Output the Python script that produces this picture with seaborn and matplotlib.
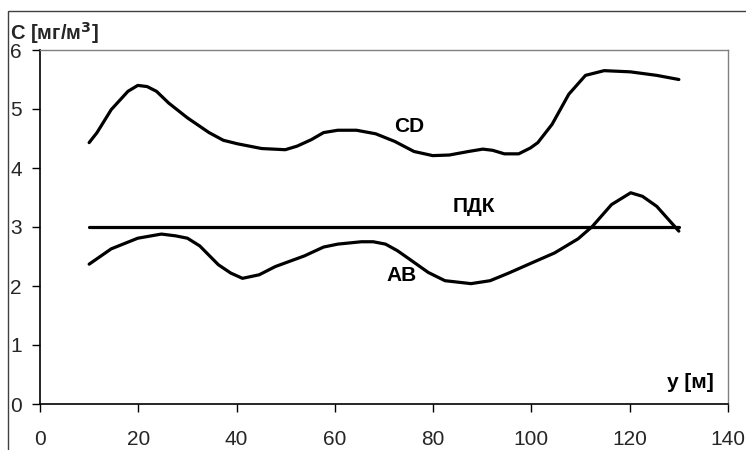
import matplotlib
matplotlib.use("Agg")
import matplotlib.pyplot as plt
import seaborn as sns
import pandas as pd
from matplotlib.patches import Rectangle

# концентрация вдоль профиля CD
x_cd = [10, 11.6, 14.5, 17.9, 19.9, 21.8, 23.7, 26.2, 30, 34.4, 37.3, 40.2, 45.1, 49.9,
        52.3, 55.2, 57.7, 60.6, 64.4, 68.3, 72.2, 76.1, 79.9, 83.3, 87.2, 90.1, 92.1,
        94.5, 97.4, 99.8, 101.3, 104.2, 107.6, 111, 114.8, 120.1, 125.5, 130]
c_cd = [4.43, 4.6, 4.99, 5.30, 5.40, 5.38, 5.30, 5.10, 4.85, 4.60, 4.47, 4.41, 4.33, 4.31,
        4.37, 4.48, 4.60, 4.64, 4.64, 4.58, 4.45, 4.28, 4.21, 4.22, 4.28, 4.32, 4.30,
        4.24, 4.24, 4.34, 4.43, 4.74, 5.25, 5.57, 5.65, 5.63, 5.57, 5.50]

# концентрация вдоль профиля AB
x_ab = [10, 14.5, 19.9, 24.7, 27.6, 30, 32.5, 36.3, 38.8, 41.2, 44.6, 47.9, 53.8, 57.7,
        60.6, 65.4, 67.8, 70.3, 72.7, 75.1, 79, 82.4, 87.7, 91.6, 95.4, 100.3, 104.7,
        109.5, 112.4, 116.3, 120.2, 122.6, 125.5, 130]
c_ab = [2.37, 2.63, 2.81, 2.88, 2.85, 2.81, 2.68, 2.36, 2.22, 2.13, 2.19, 2.33, 2.51, 2.66,
        2.71, 2.75, 2.75, 2.71, 2.60, 2.46, 2.23, 2.09, 2.04, 2.09, 2.22, 2.40, 2.56,
        2.80, 3.01, 3.38, 3.58, 3.52, 3.35, 2.93]

# ПДК
x_pdk = [10, 130]
c_pdk = [3, 3]

x_ticks = [0, 20, 40, 60, 80, 100, 120, 140]
y_ticks = [0, 1, 2, 3, 4, 5, 6]

sns.set_theme(style="white")
plt.rcParams['font.family'] = ['Liberation Sans', 'DejaVu Sans']

fig = plt.figure(figsize=(7.46, 4.5), dpi=100)
ax = fig.add_axes([40/746, 1-404/450, 688/746, 354/450])

df_cd = pd.DataFrame({'y': x_cd, 'C': c_cd})
df_ab = pd.DataFrame({'y': x_ab, 'C': c_ab})
df_pdk = pd.DataFrame({'y': x_pdk, 'C': c_pdk})
for d in (df_cd, df_ab, df_pdk):
    sns.lineplot(data=d, x='y', y='C', ax=ax, color='black', linewidth=2.3, sort=False)

ax.set_xlim(0, 140)
ax.set_ylim(0, 6)
ax.set_xticks(x_ticks)
ax.set_yticks(y_ticks)
ax.set_xlabel('')
ax.set_ylabel('')
ax.tick_params(axis='x', direction='out', length=6, width=1, color='black',
               labelsize=15, pad=13, bottom=True)
ax.tick_params(axis='y', direction='out', length=6, width=1, color='black',
               labelsize=15, pad=7, left=True)
for s in ('left', 'bottom'):
    ax.spines[s].set_color('black')
    ax.spines[s].set_linewidth(1.2)
for s in ('top', 'right'):
    ax.spines[s].set_color('#808080')
    ax.spines[s].set_linewidth(1.0)

bold = dict(fontsize=15, fontweight='bold', color='black')
ax.text(75.1, 4.70, 'CD', ha='center', va='center', **bold)
ax.text(88.3, 3.35, 'ПДК', ha='center', va='center', **bold)
ax.text(73.6, 2.18, 'AB', ha='center', va='center', **bold)
ax.text(137.0, 0.36, 'y [м]', ha='right', va='center', **bold)

fig.text(10/746, 1-40/450, 'C [мг/м$^\\mathbf{3}$]', ha='left', va='baseline',
         fontsize=14.5, fontweight='bold')

# внешняя рамка
fig.patches.append(Rectangle((8/746, -0.2), 1.5, 1-11/450+0.2, transform=fig.transFigure,
                             fill=False, edgecolor='#404040', linewidth=1.0))

fig.savefig('out.png', dpi=100)
